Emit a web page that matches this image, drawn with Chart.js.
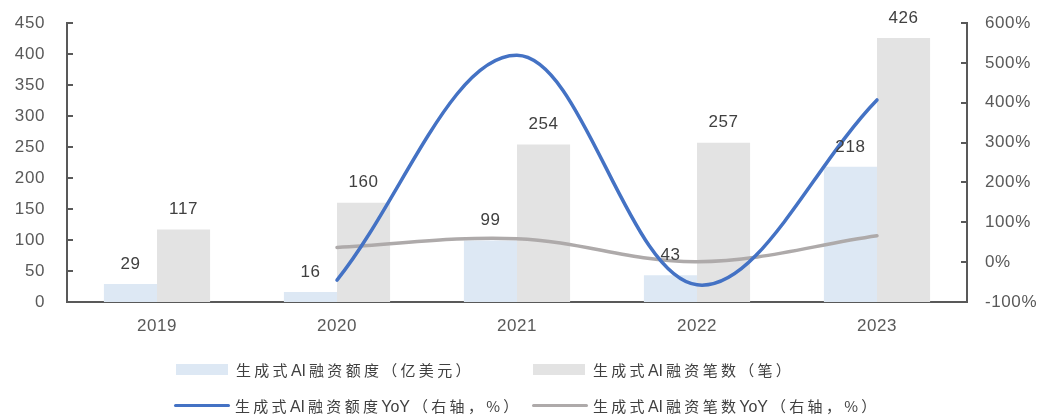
<!DOCTYPE html>
<html>
<head>
<meta charset="utf-8">
<script src="https://cdn.jsdelivr.net/npm/chart.js@4.4.1/dist/chart.umd.min.js"></script>
<style>
  body{margin:0;background:#fff;}
  #wrap{position:relative;width:1051px;height:417px;}
  #legend{position:absolute;left:0;top:0;width:1051px;height:417px;pointer-events:none;
    font-family:"Noto Sans CJK SC","Liberation Sans",sans-serif;font-size:15px;color:#404040;}
  .item{position:absolute;display:flex;align-items:center;height:20px;white-space:nowrap;letter-spacing:3.3px;}
  .item b{font-weight:normal;letter-spacing:0;font-family:"Liberation Sans",sans-serif;font-size:16px;margin-right:3px;}
  .box{width:52px;height:11px;margin-right:8px;}
  .ln{width:56px;height:3px;margin-right:5px;border-radius:2px;}
</style>
</head>
<body>
<div id="wrap">
  <canvas id="c" width="1051" height="417"></canvas>
  <div id="legend"></div>
</div>
<script>
const years = ['2019','2020','2021','2022','2023'];
const amount = [29, 16, 99, 43, 218];          // 亿美元
const deals = [117, 160, 254, 257, 426];       // 笔
const amountYoY = [null, -45, 519, -57, 407];  // %
const dealsYoY = [null, 37, 59, 1, 66];        // %

const leftTicks = [0, 50, 100, 150, 200, 250, 300, 350, 400, 450];
const rightTicks = [-100, 0, 100, 200, 300, 400, 500, 600];

const BLUE_BAR = '#dde8f4', GRAY_BAR = '#e3e3e3';
const BLUE_LINE = '#4472c4', GRAY_LINE = '#aeaaaa';
const AXIS = '#595959';
const NUM_FONT = '"Liberation Sans", Arial, sans-serif';

// slightly spaced digits on the canvas
const spacing = {
  id: 'spacing',
  beforeUpdate(chart){ chart.ctx.letterSpacing = '0.6px'; },
  beforeDraw(chart){ chart.ctx.letterSpacing = '0.6px'; }
};

// tick marks pointing into the plot, plus value labels over the bars
const extras = {
  id: 'extras',
  afterDraw(chart){
    const ctx = chart.ctx, a = chart.chartArea;
    const y = chart.scales.y, y1 = chart.scales.y1;
    ctx.save();
    ctx.strokeStyle = AXIS; ctx.lineWidth = 2;
    leftTicks.forEach(v => {
      const py = Math.round(y.getPixelForValue(v));
      ctx.beginPath(); ctx.moveTo(a.left, py); ctx.lineTo(a.left + 6, py); ctx.stroke();
    });
    rightTicks.forEach(v => {
      const py = Math.round(y1.getPixelForValue(v));
      ctx.beginPath(); ctx.moveTo(a.right, py); ctx.lineTo(a.right - 6, py); ctx.stroke();
    });
    ctx.fillStyle = '#404040';
    ctx.font = '17px ' + NUM_FONT;
    ctx.textAlign = 'center'; ctx.textBaseline = 'middle';
    [0, 1].forEach(di => {
      const meta = chart.getDatasetMeta(di);
      const vals = chart.data.datasets[di].data;
      meta.data.forEach((bar, i) => {
        ctx.fillText(String(vals[i]), bar.x, bar.y - 20);
      });
    });
    ctx.restore();
  }
};

// fixed side widths; drop the label padding that v4 adds above/below vertical axes
function fixSide(w){
  return s => { s.width = w; s.paddingTop = 0; s.paddingBottom = 0; };
}

new Chart(document.getElementById('c'), {
  data: {
    labels: years,
    datasets: [
      {type:'bar', label:'生成式AI融资额度（亿美元）', data:amount, backgroundColor:BLUE_BAR,
        yAxisID:'y', order:2, barPercentage:1, categoryPercentage:0.59},
      {type:'bar', label:'生成式AI融资笔数（笔）', data:deals, backgroundColor:GRAY_BAR,
        yAxisID:'y', order:2, barPercentage:1, categoryPercentage:0.59},
      {type:'line', label:'生成式AI融资额度YoY（右轴，%）', data:amountYoY, borderColor:BLUE_LINE,
        borderWidth:3.5, pointRadius:0, tension:0.36, yAxisID:'y1', order:0, borderCapStyle:'round'},
      {type:'line', label:'生成式AI融资笔数YoY（右轴，%）', data:dealsYoY, borderColor:GRAY_LINE,
        borderWidth:3.5, pointRadius:0, tension:0.36, yAxisID:'y1', order:1, borderCapStyle:'round'}
    ]
  },
  options: {
    responsive:false,
    animation:false,
    layout:{padding:{top:23}},
    plugins:{legend:{display:false}, tooltip:{enabled:false}},
    scales:{
      x:{
        grid:{display:false, drawTicks:false},
        border:{display:true, color:AXIS, width:2},
        ticks:{color:AXIS, font:{size:17, family:NUM_FONT}, padding:14},
        afterFit(s){ s.height = 115; }
      },
      y:{
        position:'left', min:0, max:450,
        grid:{display:false, drawTicks:false},
        border:{display:true, color:AXIS, width:2},
        ticks:{stepSize:50, color:AXIS, font:{size:17, family:NUM_FONT}, padding:22},
        afterFit: fixSide(67)
      },
      y1:{
        position:'right', min:-100, max:600,
        grid:{display:false, drawTicks:false},
        border:{display:true, color:AXIS, width:2},
        ticks:{stepSize:100, color:AXIS, font:{size:17, family:NUM_FONT}, padding:18,
          callback:v => v + '%'},
        afterFit: fixSide(84)
      }
    }
  },
  plugins:[spacing, extras]
});

// legend laid out in two rows under the axis; Latin parts set apart in <b>
const legendItems = [
  {text:'生成式<b>AI</b>融资额度（亿美元）', kind:'box', color:BLUE_BAR, x:176, y:359},
  {text:'生成式<b>AI</b>融资笔数（笔）', kind:'box', color:GRAY_BAR, x:533, y:359},
  {text:'生成式<b>AI</b>融资额度<b>YoY</b>（右轴，%）', kind:'ln', color:BLUE_LINE, x:174, y:395},
  {text:'生成式<b>AI</b>融资笔数<b>YoY</b>（右轴，%）', kind:'ln', color:GRAY_LINE, x:532, y:395}
];
const lg = document.getElementById('legend');
legendItems.forEach(it => {
  const d = document.createElement('div');
  d.className = 'item';
  d.style.left = it.x + 'px'; d.style.top = it.y + 'px';
  d.innerHTML = '<span class="' + it.kind + '" style="background:' + it.color + '"></span><span>' + it.text + '</span>';
  lg.appendChild(d);
});
</script>
</body>
</html>
